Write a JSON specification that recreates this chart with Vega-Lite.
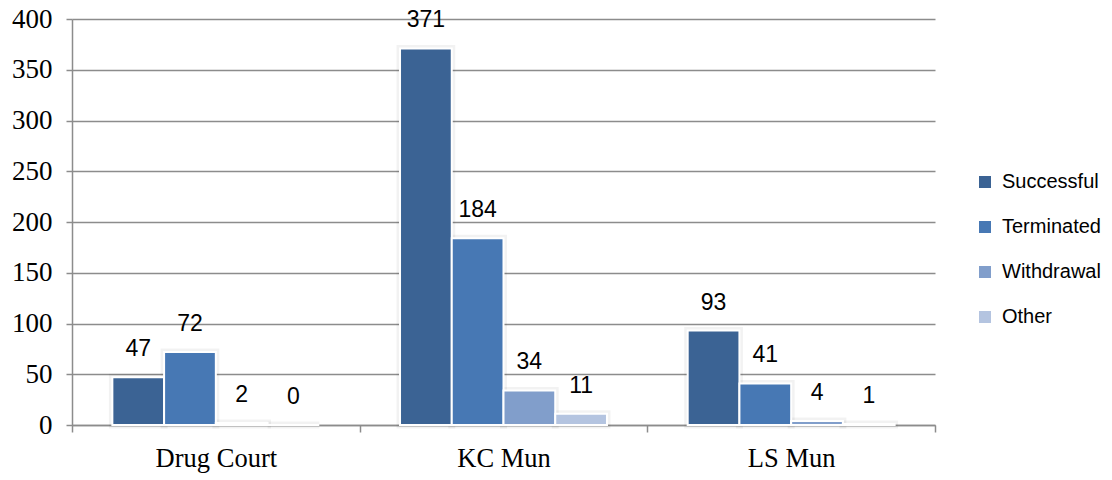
{
  "$schema": "https://vega.github.io/schema/vega-lite/v6.json",
  "autosize": {"type": "none"},
  "padding": {"left": 72, "top": 19, "right": 177, "bottom": 55},
  "width": 863,
  "height": 406,
  "background": "white",
  "config": {
    "view": {"stroke": null}
  },
  "data": {
    "values": [
      {"court": "Drug Court", "outcome": "Successful", "count": 47},
      {"court": "Drug Court", "outcome": "Terminated", "count": 72},
      {"court": "Drug Court", "outcome": "Withdrawal", "count": 2},
      {"court": "Drug Court", "outcome": "Other", "count": 0},
      {"court": "KC Mun", "outcome": "Successful", "count": 371},
      {"court": "KC Mun", "outcome": "Terminated", "count": 184},
      {"court": "KC Mun", "outcome": "Withdrawal", "count": 34},
      {"court": "KC Mun", "outcome": "Other", "count": 11},
      {"court": "LS Mun", "outcome": "Successful", "count": 93},
      {"court": "LS Mun", "outcome": "Terminated", "count": 41},
      {"court": "LS Mun", "outcome": "Withdrawal", "count": 4},
      {"court": "LS Mun", "outcome": "Other", "count": 1}
    ]
  },
  "encoding": {
    "x": {
      "field": "court",
      "type": "nominal",
      "sort": null,
      "scale": {"paddingInner": 0, "paddingOuter": 0},
      "axis": {
        "title": null,
        "labelAngle": 0,
        "labelFont": "Liberation Serif",
        "labelFontSize": 26.5,
        "labelColor": "black",
        "labelPadding": 13,
        "tickBand": "extent",
        "tickSize": 7,
        "tickColor": "#8c8c8c",
        "tickWidth": 1.5,
        "domainColor": "#8c8c8c",
        "domainWidth": 1.5
      }
    },
    "xOffset": {
      "field": "outcome",
      "type": "nominal",
      "sort": ["Successful", "Terminated", "Withdrawal", "Other"],
      "scale": {"paddingInner": 0, "paddingOuter": 0.78}
    },
    "y": {
      "field": "count",
      "type": "quantitative",
      "scale": {"domain": [0, 400], "nice": false},
      "axis": {
        "title": null,
        "values": [0, 50, 100, 150, 200, 250, 300, 350, 400],
        "labelFont": "Liberation Serif",
        "labelFontSize": 27,
        "labelColor": "black",
        "labelPadding": 14,
        "tickSize": 6,
        "tickColor": "#8c8c8c",
        "tickWidth": 1.5,
        "domainColor": "#8c8c8c",
        "domainWidth": 1.5,
        "grid": true,
        "gridColor": "#8c8c8c",
        "gridWidth": 1.5
      }
    }
  },
  "layer": [
    {
      "mark": {
        "type": "bar",
        "fill": null,
        "filled": false,
        "stroke": "#000000",
        "strokeOpacity": 0.05,
        "strokeWidth": 7
      }
    },
    {
      "mark": {"type": "bar", "stroke": "white", "strokeWidth": 2},
      "encoding": {
        "color": {
          "field": "outcome",
          "type": "nominal",
          "sort": ["Successful", "Terminated", "Withdrawal", "Other"],
          "scale": {
            "domain": ["Successful", "Terminated", "Withdrawal", "Other"],
            "range": ["#3b6394", "#4778b4", "#819ecb", "#b4c4e0"]
          },
          "legend": {
            "title": null,
            "orient": "none",
            "legendX": 903,
            "legendY": 153,
            "symbolType": "square",
            "symbolSize": 144,
            "symbolStrokeWidth": 0,
            "labelFont": "Liberation Sans",
            "labelFontSize": 20,
            "labelColor": "black",
            "labelOffset": 7,
            "rowPadding": 25
          }
        }
      }
    },
    {
      "mark": {
        "type": "text",
        "baseline": "bottom",
        "dy": -16,
        "font": "Liberation Sans",
        "fontSize": 23,
        "color": "black"
      },
      "encoding": {
        "text": {"field": "count", "type": "quantitative"}
      }
    }
  ]
}
